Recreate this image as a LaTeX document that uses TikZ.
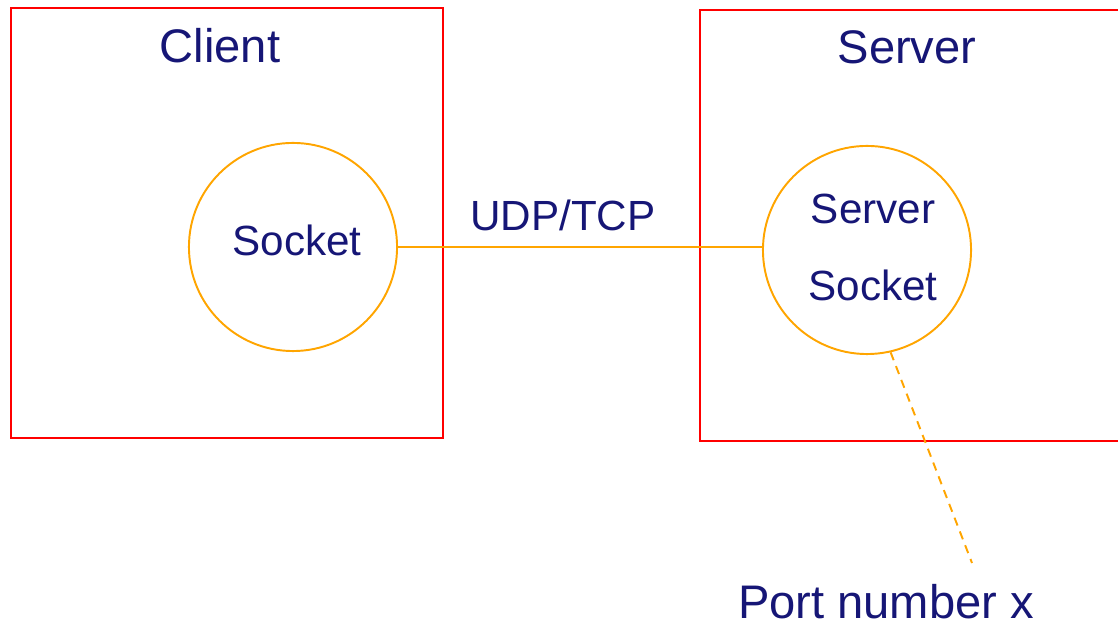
\documentclass[tikz,border=0pt]{standalone}
\usepackage{fontspec}
\setmainfont{Liberation Sans}
\usepackage{xcolor}
\usepackage{tikz}
\definecolor{sknavy}{RGB}{22,22,118}
\definecolor{skorange}{RGB}{255,165,0}
\definecolor{skred}{RGB}{255,0,0}
\tikzset{
  skbox/.style={draw=skred, line width=0.7pt, rectangle, inner sep=0pt},
  sksock/.style={draw=skorange, line width=0.55pt, circle, inner sep=0pt, minimum size=2.08cm},
  sklink/.style={draw=skorange, line width=0.55pt},
  skport/.style={draw=skorange, line width=0.55pt, dash pattern=on 2.4pt off 1.8pt},
  sktitle/.style={text=sknavy, font=\fontsize{13.4}{16}\selectfont, inner sep=0pt, anchor=base},
  sklabel/.style={text=sknavy, font=\fontsize{12}{14}\selectfont, inner sep=0pt, anchor=base},
}
\begin{document}
\begin{tikzpicture}[x=0.01cm,y=-0.01cm]
\clip (0,0) rectangle (1118,625);
\node[skbox, minimum width=4.32cm, minimum height=4.30cm] (clientbox) at (227,223) {};
\node[skbox, minimum width=4.40cm, minimum height=4.31cm] (serverbox) at (920,225.5) {};
\node[sktitle] (clienttitle) at (220,63) {Client};
\node[sktitle] (servertitle) at (907,64) {Server};
\node[sksock] (sock) at (293,247) {};
\node[sksock] (ssock) at (867,250) {};
\node[sklabel] (sockA) at (297,256) {Socket};
\node[sklabel] (ssockA) at (873,224) {Server};
\node[sklabel] (ssockB) at (873,301) {Socket};
\draw[sklink] (sock.east) -- (sock.east -| ssock.west);
\node[sklabel] (proto) at (563,231) {UDP/TCP};
\coordinate (portend) at (972,563);
\draw[skport] (ssock.-77) -- (portend);
\node[sktitle] (port) at (886,619) {Port number x};
\end{tikzpicture}
\end{document}
